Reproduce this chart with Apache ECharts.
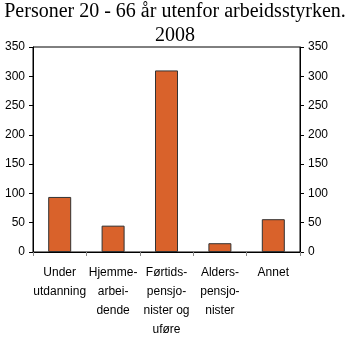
<!DOCTYPE html>
<html><head><meta charset="utf-8">
<script src="https://cdn.jsdelivr.net/npm/echarts@6/dist/echarts.min.js"></script>
<style>html,body{margin:0;padding:0;background:#fff}#c{width:350px;height:339px}</style>
</head><body><div id="c"></div>
<script>
var titleText = "Personer 20 - 66 år utenfor arbeidsstyrken.\n2008";
var categories = ["Under\nutdanning", "Hjemme-\narbei-\ndende", "Førtids-\npensjo-\nnister og\nuføre", "Alders-\npensjo-\nnister", "Annet"];
var values = [94, 45, 310, 15, 56];
var yMin = 0, yMax = 350, yStep = 50;

var chart = echarts.init(document.getElementById('c'), null, {renderer: 'canvas'});
var yAxisBase = {
  type: 'value', min: yMin, max: yMax, interval: yStep,
  axisLine: {show: true, lineStyle: {color: '#000', width: 1}},
  axisTick: {show: true, length: 4, lineStyle: {color: '#000'}},
  axisLabel: {color: '#000', fontFamily: 'Liberation Sans', fontSize: 12, margin: 8},
  splitLine: {show: false}
};
chart.setOption({
  animation: false,
  title: {text: titleText, left: 'center', top: -5,
    textStyle: {fontFamily: 'Liberation Serif', fontSize: 20, fontWeight: 'normal', color: '#000', lineHeight: 24}},
  grid: {left: 33, right: 50, top: 47, bottom: 85, show: true, borderColor: '#000', borderWidth: 1, backgroundColor: 'transparent'},
  xAxis: {
    type: 'category', data: categories,
    axisLine: {show: true, lineStyle: {color: '#000'}},
    axisTick: {show: true, length: 4, lineStyle: {color: '#888'}},
    axisLabel: {color: '#000', fontFamily: 'Liberation Sans', fontSize: 12, lineHeight: 19, margin: 11, interval: 0}
  },
  yAxis: [
    Object.assign({position: 'left'}, yAxisBase),
    Object.assign({position: 'right'}, yAxisBase)
  ],
  series: [{
    type: 'bar', data: values, barWidth: 23, yAxisIndex: 0,
    itemStyle: {color: '#d9622b', borderColor: '#333', borderWidth: 1}
  }]
});
</script></body></html>
